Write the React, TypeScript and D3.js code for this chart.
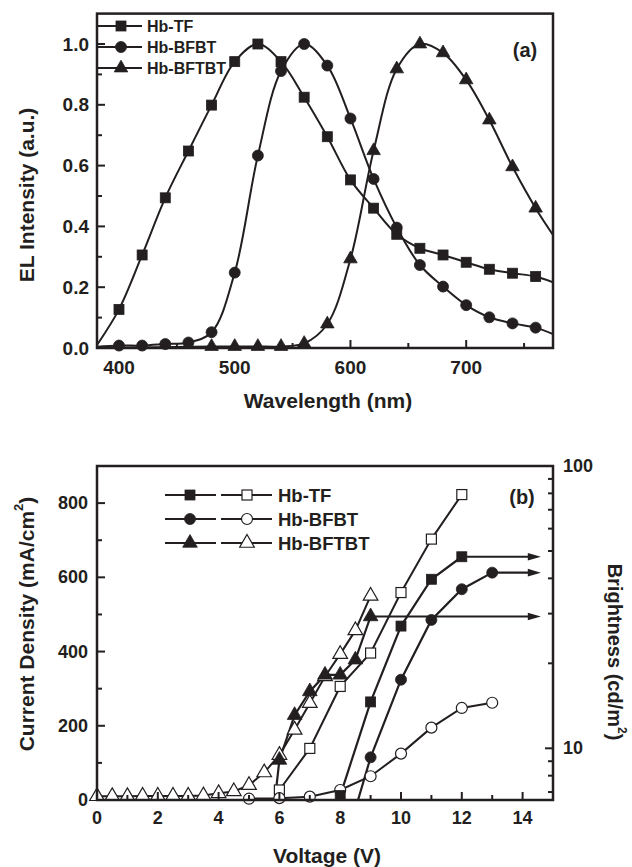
import React from "react";
import * as d3 from "d3";

// ---------- Panel (a) data ----------
const wlTicks = [400, 500, 600, 700];
const wlMinor = [450, 550, 650, 750];
const elTicks = [0, 0.2, 0.4, 0.6, 0.8, 1.0];
const elMinor = [0.1, 0.3, 0.5, 0.7, 0.9];

const tfWl = [400, 420, 440, 460, 480, 500, 520, 540, 560, 580, 600, 620, 640, 660, 680, 700, 720, 740, 760];
const tfEl = [0.127, 0.306, 0.494, 0.648, 0.799, 0.942, 1.0, 0.942, 0.825, 0.695, 0.553, 0.46, 0.374, 0.328, 0.306, 0.282, 0.259, 0.246, 0.235];
const tfEnds = [[381, 0.01], [775, 0.216]];

const bfbtWl = [400, 420, 440, 460, 480, 500, 520, 540, 560, 580, 600, 620, 640, 660, 680, 700, 720, 740, 760];
const bfbtEl = [0.008, 0.008, 0.013, 0.018, 0.052, 0.248, 0.633, 0.911, 1.0, 0.929, 0.755, 0.556, 0.396, 0.273, 0.202, 0.141, 0.101, 0.081, 0.067];
const bfbtEnds = [[381, 0.004], [775, 0.046]];

const bftbtWl = [480, 500, 520, 540, 560, 580, 600, 620, 640, 660, 680, 700, 720, 740, 760];
const bftbtEl = [0.005, 0.005, 0.005, 0.005, 0.015, 0.079, 0.293, 0.649, 0.918, 1.0, 0.971, 0.882, 0.75, 0.596, 0.46];
const bftbtEnds = [[381, 0.0], [775, 0.372]];

const legendA = ["Hb-TF", "Hb-BFBT", "Hb-BFTBT"];

// ---------- Panel (b) data ----------
const vTicks = [0, 2, 4, 6, 8, 10, 12, 14];
const vMinor = [1, 3, 5, 7, 9, 11, 13];
const jTicks = [0, 200, 400, 600, 800];
const jMinor = [100, 300, 500, 700];
const bMajor = [10, 100];
const bMinor = [7, 8, 9, 20, 30, 40, 50, 60, 70, 80, 90];

// current density (open symbols, left axis)
const tfJV = [6, 7, 8, 9, 10, 11, 12];
const tfJ = [27, 139, 306, 396, 559, 703, 823];
const bfbtJV = [5, 6, 7, 8, 9, 10, 11, 12, 13];
const bfbtJ = [3.5, 5, 9, 27, 64, 125, 195, 248, 262];
const bftbtJV = [0, 0.5, 1, 1.5, 2, 2.5, 3, 3.5, 4, 4.5, 5, 5.5, 6, 6.5, 7, 7.5, 8, 8.5, 9];
const bftbtJ = [10, 10, 10, 11, 11, 11, 11, 12, 18, 23, 40, 74, 121, 189, 261, 333, 393, 457, 550];

// brightness (filled symbols, right log axis)
const tfBV = [8, 9, 10, 11, 12];
const tfB = [6.8, 14.6, 27.1, 39.7, 47.7];
const bfbtBV = [8, 9, 10, 11, 12, 13];
const bfbtB = [4, 9.29, 17.5, 28.5, 36.6, 41.9];
const bftbtBV = [5.5, 6, 6.5, 7, 7.5, 8, 8.5, 9];
const bftbtB = [3, 9.09, 13.1, 15.9, 18.2, 18.2, 20.6, 29.3];
const arrowTipV = 14.6;

const legendB = ["Hb-TF", "Hb-BFBT", "Hb-BFTBT"];

const FONT = "'Liberation Sans', Arial, Helvetica, sans-serif";
const INK = "#231f20";

type Shape = "square" | "circle" | "triangle";

function Marker({ x, y, shape, filled, size }: { x: number; y: number; shape: Shape; filled: boolean; size: number }) {
  const fill = filled ? INK : "#fff";
  const sw = filled ? 0.8 : 1.2;
  if (shape === "square") {
    return <rect x={x - size / 2} y={y - size / 2} width={size} height={size} fill={fill} stroke={INK} strokeWidth={sw} />;
  }
  if (shape === "circle") {
    return <circle cx={x} cy={y} r={size / 2} fill={fill} stroke={INK} strokeWidth={sw} />;
  }
  const p = d3.symbol().type(d3.symbolTriangle).size(size * size * 0.55)();
  return <path d={p || ""} transform={`translate(${x},${y})`} fill={fill} stroke={INK} strokeWidth={sw} />;
}

function PanelA() {
  const x = d3.scaleLinear().domain([381, 775]).range([97, 553]);
  const y = d3.scaleLinear().domain([0, 1.1]).range([348, 13.6]);
  const line = d3.line<number[]>().x((d) => x(d[0])).y((d) => y(d[1])).curve(d3.curveCatmullRom.alpha(0.5));
  const series = [
    { wl: tfWl, v: tfEl, ends: tfEnds, shape: "square" as Shape },
    { wl: bfbtWl, v: bfbtEl, ends: bfbtEnds, shape: "circle" as Shape },
    { wl: bftbtWl, v: bftbtEl, ends: bftbtEnds, shape: "triangle" as Shape },
  ];
  const y0 = y.range()[0];
  const x0 = x.range()[0];
  return (
    <g>
      <defs>
        <clipPath id="clipA">
          <rect x={x0} y={y.range()[1]} width={x.range()[1] - x0} height={y0 - y.range()[1]} />
        </clipPath>
      </defs>
      <g clipPath="url(#clipA)">
        {series.map((s, i) => {
          const pts = [s.ends[0], ...s.wl.map((w, k) => [w, s.v[k]]), s.ends[1]];
          return <path key={i} d={line(pts) || ""} fill="none" stroke={INK} strokeWidth={2} />;
        })}
      </g>
      {series.map((s, i) =>
        s.wl.map((w, k) => <Marker key={`${i}-${k}`} x={x(w)} y={y(s.v[k])} shape={s.shape} filled size={s.shape === "triangle" ? 12 : s.shape === "circle" ? 11 : 10} />)
      )}
      {/* frame */}
      <rect x={x0} y={y.range()[1]} width={x.range()[1] - x0} height={y0 - y.range()[1]} fill="none" stroke={INK} strokeWidth={2.5} />
      {wlTicks.map((t) => (
        <g key={t}>
          <line x1={x(t)} x2={x(t)} y1={y0} y2={y0 - 8} stroke={INK} strokeWidth={2} />
          <text x={x(t)} y={y0 + 19} textAnchor="middle" dominantBaseline="central" fontSize={19} fontWeight="bold" fontFamily={FONT} fill={INK}>{t}</text>
        </g>
      ))}
      {wlMinor.map((t) => <line key={t} x1={x(t)} x2={x(t)} y1={y0} y2={y0 - 5} stroke={INK} strokeWidth={2} />)}
      {elTicks.map((t) => (
        <g key={t}>
          <line x1={x0} x2={x0 + 8} y1={y(t)} y2={y(t)} stroke={INK} strokeWidth={2} />
          <text x={89} y={y(t)} textAnchor="end" dominantBaseline="central" fontSize={19} fontWeight="bold" fontFamily={FONT} fill={INK}>{t.toFixed(1)}</text>
        </g>
      ))}
      {elMinor.map((t) => <line key={t} x1={x0} x2={x0 + 5} y1={y(t)} y2={y(t)} stroke={INK} strokeWidth={2} />)}
      {/* legend */}
      {legendA.map((name, i) => {
        const ly = 26 + i * 21;
        return (
          <g key={name}>
            <line x1={x0} x2={142} y1={ly} y2={ly} stroke={INK} strokeWidth={2} />
            <Marker x={121} y={ly} shape={series[i].shape} filled size={series[i].shape === "triangle" ? 12 : series[i].shape === "circle" ? 11 : 10} />
            <text x={147} y={ly} dominantBaseline="central" fontSize={16} fontWeight="bold" fontFamily={FONT} fill={INK}>{name}</text>
          </g>
        );
      })}
      <text x={525} y={50} textAnchor="middle" dominantBaseline="central" fontSize={20} fontWeight="bold" fontFamily={FONT} fill={INK}>(a)</text>
      <text transform="translate(26,195) rotate(-90)" textAnchor="middle" dominantBaseline="central" fontSize={21} fontWeight="bold" fontFamily={FONT} fill={INK}>EL Intensity (a.u.)</text>
      <text x={328} y={400} textAnchor="middle" dominantBaseline="central" fontSize={21} fontWeight="bold" fontFamily={FONT} fill={INK}>Wavelength (nm)</text>
    </g>
  );
}

function PanelB() {
  const x = d3.scaleLinear().domain([0, 15]).range([97, 553]);
  const yJ = d3.scaleLinear().domain([0, 900]).range([800, 466]);
  const yB = d3.scaleLog().domain([6.56, 100]).range([800, 466]);
  const line = d3.line<number[]>().x((d) => x(d[0])).y((d) => d[1]);
  const x0 = x.range()[0], x1 = x.range()[1];
  const yb = yJ.range()[0], yt = yJ.range()[1];
  const openS = [
    { v: tfJV, val: tfJ, shape: "square" as Shape },
    { v: bfbtJV, val: bfbtJ, shape: "circle" as Shape },
    { v: bftbtJV, val: bftbtJ, shape: "triangle" as Shape },
  ];
  const fillS = [
    { v: tfBV, val: tfB, shape: "square" as Shape },
    { v: bfbtBV, val: bfbtB, shape: "circle" as Shape },
    { v: bftbtBV, val: bftbtB, shape: "triangle" as Shape },
  ];
  const sz = (s: Shape) => (s === "triangle" ? 13 : s === "circle" ? 11 : 10);
  const [bmin] = yB.domain();
  return (
    <g>
      <defs>
        <clipPath id="clipB">
          <rect x={x0} y={yt} width={x1 - x0} height={yb - yt} />
        </clipPath>
      </defs>
      <g clipPath="url(#clipB)">
        {fillS.map((s, i) => (
          <path key={`fl${i}`} d={line(s.v.map((v, k) => [v, yB(s.val[k])])) || ""} fill="none" stroke={INK} strokeWidth={2.2} />
        ))}
        {openS.map((s, i) => (
          <path key={`ol${i}`} d={line(s.v.map((v, k) => [v, yJ(s.val[k])])) || ""} fill="none" stroke={INK} strokeWidth={2} />
        ))}
      </g>
      {/* arrows */}
      {fillS.map((s, i) => {
        const last = s.v.length - 1;
        const yy = yB(s.val[last]);
        const tip = x(arrowTipV);
        return (
          <g key={`ar${i}`}>
            <line x1={x(s.v[last])} x2={tip - 10} y1={yy} y2={yy} stroke={INK} strokeWidth={2.2} />
            <path d={`M${tip},${yy} L${tip - 13},${yy - 3.8} L${tip - 13},${yy + 3.8} Z`} fill={INK} />
          </g>
        );
      })}
      {openS.map((s, i) =>
        s.v.map((v, k) => <Marker key={`om${i}-${k}`} x={x(v)} y={yJ(s.val[k])} shape={s.shape} filled={false} size={sz(s.shape)} />)
      )}
      {fillS.map((s, i) =>
        s.v.map((v, k) => (s.val[k] >= bmin ? <Marker key={`fm${i}-${k}`} x={x(v)} y={yB(s.val[k])} shape={s.shape} filled size={sz(s.shape)} /> : null))
      )}
      <rect x={x0} y={yt} width={x1 - x0} height={yb - yt} fill="none" stroke={INK} strokeWidth={2.5} />
      {vTicks.map((t) => (
        <g key={t}>
          <line x1={x(t)} x2={x(t)} y1={yb} y2={yb - 8} stroke={INK} strokeWidth={2} />
          <text x={x(t)} y={yb + 18} textAnchor="middle" dominantBaseline="central" fontSize={18} fontWeight="bold" fontFamily={FONT} fill={INK}>{t}</text>
        </g>
      ))}
      {vMinor.map((t) => <line key={t} x1={x(t)} x2={x(t)} y1={yb} y2={yb - 5} stroke={INK} strokeWidth={2} />)}
      {jTicks.map((t) => (
        <g key={t}>
          <line x1={x0} x2={x0 + 8} y1={yJ(t)} y2={yJ(t)} stroke={INK} strokeWidth={2} />
          <text x={88} y={yJ(t)} textAnchor="end" dominantBaseline="central" fontSize={18} fontWeight="bold" fontFamily={FONT} fill={INK}>{t}</text>
        </g>
      ))}
      {jMinor.map((t) => <line key={t} x1={x0} x2={x0 + 5} y1={yJ(t)} y2={yJ(t)} stroke={INK} strokeWidth={2} />)}
      {bMajor.map((t) => (
        <g key={t}>
          <line x1={x1} x2={x1 - 8} y1={yB(t)} y2={yB(t)} stroke={INK} strokeWidth={2} />
          <text x={563} y={yB(t)} textAnchor="start" dominantBaseline="central" fontSize={18} fontWeight="bold" fontFamily={FONT} fill={INK}>{t}</text>
        </g>
      ))}
      {bMinor.map((t) => <line key={t} x1={x1} x2={x1 - 5} y1={yB(t)} y2={yB(t)} stroke={INK} strokeWidth={2} />)}
      {/* legend */}
      {legendB.map((name, i) => {
        const ly = 495 + i * 24;
        return (
          <g key={name}>
            <line x1={165} x2={216} y1={ly} y2={ly} stroke={INK} strokeWidth={2.2} />
            <Marker x={190} y={ly} shape={fillS[i].shape} filled size={sz(fillS[i].shape)} />
            <line x1={221} x2={272} y1={ly} y2={ly} stroke={INK} strokeWidth={2} />
            <Marker x={247} y={ly} shape={openS[i].shape} filled={false} size={sz(openS[i].shape)} />
            <text x={278} y={ly} dominantBaseline="central" fontSize={18.5} fontWeight="bold" fontFamily={FONT} fill={INK}>{name}</text>
          </g>
        );
      })}
      <text x={522} y={497} textAnchor="middle" dominantBaseline="central" fontSize={20} fontWeight="bold" fontFamily={FONT} fill={INK}>(b)</text>
      <text transform="translate(26,624) rotate(-90)" textAnchor="middle" dominantBaseline="central" fontSize={21} fontWeight="bold" fontFamily={FONT} fill={INK}>
        Current Density (mA/cm<tspan fontSize={13} dy={-8}>2</tspan><tspan dy={8}>)</tspan>
      </text>
      <text transform="translate(615,652) rotate(90)" textAnchor="middle" dominantBaseline="central" fontSize={20} fontWeight="bold" fontFamily={FONT} fill={INK}>
        Brightness (cd/m<tspan fontSize={12} dy={-7}>2</tspan><tspan dy={7}>)</tspan>
      </text>
      <text x={327} y={855} textAnchor="middle" dominantBaseline="central" fontSize={21} fontWeight="bold" fontFamily={FONT} fill={INK}>Voltage (V)</text>
    </g>
  );
}

export default function App() {
  return (
    <svg width={632} height={867} viewBox="0 0 632 867" style={{ position: "absolute", left: 0, top: 0, background: "#fff" }}>
      <rect x={0} y={0} width={632} height={867} fill="#fff" />
      <PanelA />
      <PanelB />
    </svg>
  );
}
